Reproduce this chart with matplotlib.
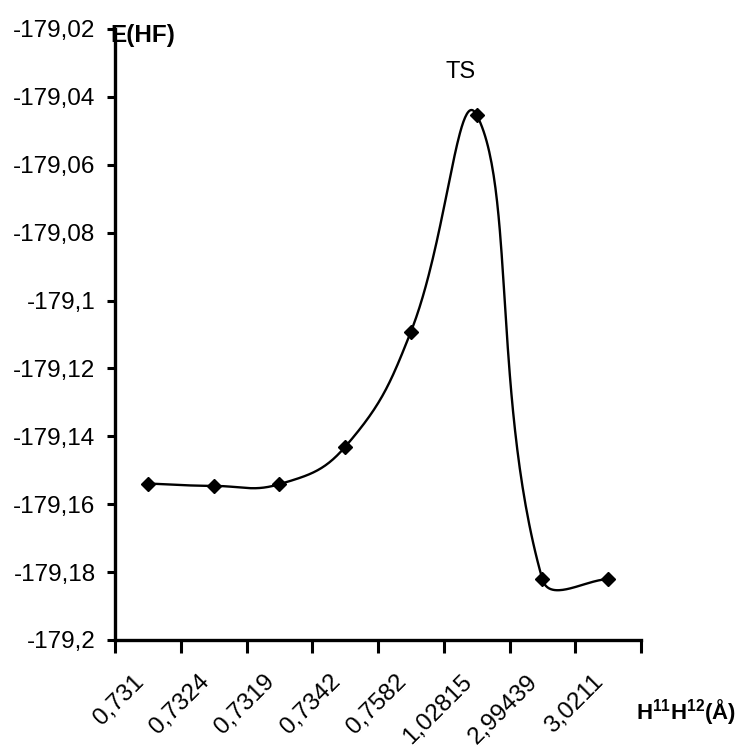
import numpy as np
import matplotlib
matplotlib.use("Agg")
import matplotlib.pyplot as plt

# ---- data ----
categories = ["0,731", "0,7324", "0,7319", "0,7342", "0,7582", "1,02815", "2,99439", "3,0211"]
energy = [-179.1539, -179.1546, -179.1541, -179.1431, -179.1092, -179.0453, -179.1821, -179.1821]
y_ticks = [-179.2, -179.18, -179.16, -179.14, -179.12, -179.1, -179.08, -179.06, -179.04, -179.02]
y_tick_labels = ["-179,2", "-179,18", "-179,16", "-179,14", "-179,12", "-179,1",
                 "-179,08", "-179,06", "-179,04", "-179,02"]
ts_label = "TS"
y_label = "E(HF)"
x_label = r"$\mathbf{H^{11}H^{12}(Å)}$"

plt.rcParams["font.family"] = ["Liberation Sans", "DejaVu Sans"]
plt.rcParams["mathtext.fontset"] = "custom"
plt.rcParams["mathtext.rm"] = "Liberation Sans"
plt.rcParams["mathtext.bf"] = "Liberation Sans:bold"
plt.rcParams["mathtext.it"] = "Liberation Sans:italic"


def smooth_curve(xs, ys, yscale, k=1.3, n=60):
    """Excel-like smoothed line: cubic Bezier segments with chord-weighted tangents."""
    P = np.column_stack([np.asarray(xs, float), np.asarray(ys, float) * yscale])
    m = len(P)
    out = []
    for i in range(m - 1):
        p0, p3 = P[i], P[i + 1]
        if i == 0:
            c1 = p0 + (p3 - p0) / 3.0
        else:
            d = P[i + 1] - P[i - 1]
            db = np.linalg.norm(P[i] - P[i - 1])
            df = np.linalg.norm(P[i + 1] - P[i])
            c1 = p0 + k * d * (df / (db + df)) / 3.0
        if i + 1 == m - 1:
            c2 = p3 - (p3 - p0) / 3.0
        else:
            d = P[i + 2] - P[i]
            db = np.linalg.norm(P[i + 1] - P[i])
            df = np.linalg.norm(P[i + 2] - P[i + 1])
            c2 = p3 - k * d * (db / (db + df)) / 3.0
        t = np.linspace(0, 1, n)[:, None]
        seg = ((1 - t) ** 3) * p0 + 3 * ((1 - t) ** 2) * t * c1 + 3 * (1 - t) * t ** 2 * c2 + t ** 3 * p3
        if i > 0:
            seg = seg[1:]
        out.append(seg)
    out = np.vstack(out)
    return out[:, 0], out[:, 1] / yscale


fig = plt.figure(figsize=(7.42, 7.49), dpi=100)
ax = fig.add_axes([115 / 742, 109 / 749, 526 / 742, 611 / 749])

xpos = np.arange(1, len(categories) + 1)
yscale = (611 / 0.18) / 65.75
sx, sy = smooth_curve(xpos, energy, yscale)
ax.plot(sx, sy, color="black", lw=1.7, solid_capstyle="round", zorder=2)
ax.plot(xpos, energy, linestyle="none", marker="D", ms=6.8, color="black", zorder=3)

ax.set_xlim(0.5, len(categories) + 0.5)
ax.set_ylim(y_ticks[0], y_ticks[-1])

ax.set_yticks(y_ticks)
ax.set_yticklabels(y_tick_labels, fontsize=17.5)
ax.set_xticks(xpos)
ax.set_xticklabels(categories, fontsize=17.5, rotation=45, ha="right", va="top")
ax.set_xticks(np.arange(0.5, len(categories) + 1, 1.0), minor=True)

ax.tick_params(axis="x", which="major", length=0, pad=22)
ax.tick_params(axis="x", which="minor", length=9, width=2.2, direction="out")
ax.tick_params(axis="y", which="major", length=6, width=2.2, direction="out", pad=8)

for s in ["top", "right"]:
    ax.spines[s].set_visible(False)
for s in ["left", "bottom"]:
    ax.spines[s].set_linewidth(2.4)
    ax.spines[s].set_color("black")

ax.text(-0.008, 0.99, y_label, transform=ax.transAxes, fontsize=17.5, fontweight="bold",
        ha="left", va="center")
ax.text(xpos[5] - 0.25, -179.0327, ts_label, fontsize=17, ha="center", va="center")
ax.text(0.99, -0.118, x_label, transform=ax.transAxes, fontsize=16, ha="left", va="center")

fig.savefig("out.png", dpi=100, facecolor="white")
